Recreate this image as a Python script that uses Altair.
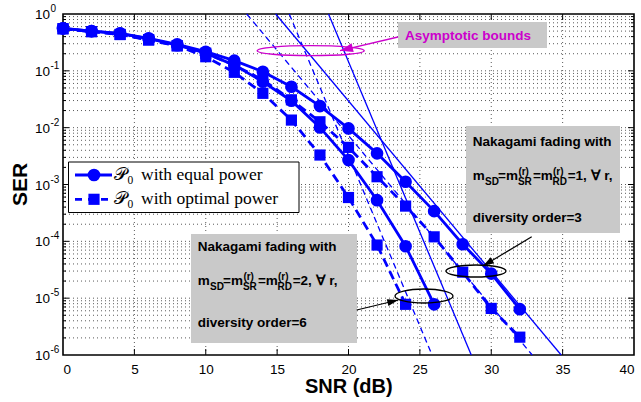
import math
import altair as alt
import pandas as pd

BLUE = "#0000ff"
MAGENTA = "#cc00cc"
BOX_GREY = "#c9c9c9"
GRID = "#5a5a5a"
SANS = "Liberation Sans"
SERIF = "Liberation Serif"

# plot area size and its offset inside the page
W, H = 571, 341
LEFT, TOP = 63, 14

# ---- simulated SER curves ----
snr_m1 = [0, 2, 4, 6, 8, 10, 12, 14, 16, 18, 20, 22, 24, 26, 28, 30, 32]
ser_m1_equal = [0.56, 0.50, 0.457, 0.373, 0.293, 0.217, 0.151, 0.0964, 0.0525,
                0.024, 0.0097, 0.00353, 0.00112, 3.4e-4, 8.9e-5, 2.7e-5, 6.4e-6]
ser_m1_optimal = [0.55, 0.49, 0.436, 0.355, 0.275, 0.204, 0.126, 0.0692, 0.0309,
                  0.0127, 0.0045, 0.00137, 4.17e-4, 1.2e-4, 2.87e-5, 6.6e-6, 2.06e-6]

snr_m2_equal = [0, 2, 4, 6, 8, 10, 12, 14, 16, 18, 20, 22, 24, 26]
ser_m2_equal = [0.56, 0.50, 0.452, 0.367, 0.282, 0.204, 0.126, 0.0643, 0.0298,
                0.0101, 0.00269, 5.3e-4, 8.2e-5, 7.8e-6]
snr_m2_optimal = [0, 2, 4, 6, 8, 10, 12, 14, 16, 18, 20, 22, 24]
ser_m2_optimal = [0.55, 0.49, 0.436, 0.347, 0.277, 0.177, 0.0942, 0.0402, 0.0136,
                  0.0033, 5.9e-4, 8.6e-5, 7.8e-6]

# ---- asymptotic bounds: SNR where each bound crosses SER = 1 and SER = 1e-6 ----
asym_ser = [1.0, 1e-6]
asym_m1_equal_snr = [14.9, 34.9]
asym_m1_optimal_snr = [12.87, 32.87]
asym_m2_equal_snr = [18.6, 28.6]
asym_m2_optimal_snr = [15.85, 25.85]

# ---- axis ticks ----
x_major = [0, 5, 10, 15, 20, 25, 30, 35, 40]
y_decades = [1.0, 1e-1, 1e-2, 1e-3, 1e-4, 1e-5, 1e-6]
y_exponents = ["0", "-1", "-2", "-3", "-4", "-5", "-6"]
y_minor = [m * 10.0 ** e for e in range(-6, 0) for m in range(2, 10)]

XS = alt.Scale(domain=[0, 40], nice=False, zero=False)
YS = alt.Scale(type="log", domain=[1e-6, 1], nice=False)
XAX = alt.Axis(values=x_major, format="d", grid=False, ticks=False, domain=False,
               labelFont=SANS, labelFontSize=13.5, labelColor="black", labelPadding=7)


def X(field):
    return alt.X(field, type="quantitative", scale=XS, axis=XAX, title=None)


def Y(field):
    return alt.Y(field, type="quantitative", scale=YS, axis=None)


one = pd.DataFrame({"k": [0]})


def px(x):
    return alt.value(x - LEFT)


def py(y):
    return alt.value(y - TOP)


def label(s, x, y, size, color="black", weight="bold", font=SANS, align="left", angle=0):
    return alt.Chart(one).mark_text(
        text=s, align=align, baseline="alphabetic", fontSize=size,
        fontWeight=weight, font=font, color=color, angle=angle,
    ).encode(x=px(x), y=py(y))


def rect(x1, y1, x2, y2, fill, stroke="", sw=0):
    kw = dict(fill=fill, opacity=1)
    if stroke:
        kw.update(stroke=stroke, strokeWidth=sw)
    return alt.Chart(one).mark_rect(**kw).encode(
        x=px(x1), x2=px(x2), y=py(y1), y2=py(y2))


def ellipse(cx, cy, w, h, color, sw):
    r = h / w
    k = 0.5523
    path = (f"M-1,0C-1,{-k*r:.4f} {-k:.4f},{-r:.4f} 0,{-r:.4f}"
            f"C{k:.4f},{-r:.4f} 1,{-k*r:.4f} 1,0"
            f"C1,{k*r:.4f} {k:.4f},{r:.4f} 0,{r:.4f}"
            f"C{-k:.4f},{r:.4f} -1,{k*r:.4f} -1,0Z")
    return alt.Chart(one).mark_point(
        shape=path, size=w * w, filled=False, color=color,
        strokeWidth=sw, opacity=1,
    ).encode(x=px(cx), y=py(cy))


def arrow(x1, y1, x2, y2, color, sw, head_len, head_w):
    ang = math.degrees(math.atan2(x2 - x1, -(y2 - y1))) % 360
    a = (head_w / 2) / head_len
    path = f"M0,0L{-a:.4f},1L{a:.4f},1Z"
    shaft = alt.Chart(one).mark_rule(color=color, strokeWidth=sw).encode(
        x=px(x1), y=py(y1), x2=px(x2), y2=py(y2))
    head = alt.Chart(one).mark_point(
        shape=path, size=(2 * head_len) ** 2, filled=True, color=color,
        angle=ang, opacity=1,
    ).encode(x=px(x2), y=py(y2))
    return [shaft, head]


layers = []

# dotted grid
layers.append(alt.Chart(pd.DataFrame({"v": y_decades[1:-1] + y_minor})).mark_rule(
    color=GRID, strokeDash=[1, 3], strokeWidth=1).encode(y=Y("v")))
layers.append(alt.Chart(pd.DataFrame({"v": x_major[1:-1]})).mark_rule(
    color=GRID, strokeDash=[1, 3], strokeWidth=1).encode(x=X("v")))

# inward ticks on all four sides
xt = alt.Chart(pd.DataFrame({"v": x_major[1:-1]}))
layers.append(xt.mark_rule(color="black").encode(x=X("v"), y=alt.value(H), y2=alt.value(H - 6)))
layers.append(xt.mark_rule(color="black").encode(x=X("v"), y=alt.value(0), y2=alt.value(6)))
for vals, ln in ((y_decades[1:-1], 6), (y_minor, 3)):
    yt = alt.Chart(pd.DataFrame({"v": vals}))
    layers.append(yt.mark_rule(color="black").encode(y=Y("v"), x=alt.value(0), x2=alt.value(ln)))
    layers.append(yt.mark_rule(color="black").encode(y=Y("v"), x=alt.value(W), x2=alt.value(W - ln)))

# annotation boxes and legend frame
layers.append(rect(398, 22, 547, 48, BOX_GREY))
layers.append(rect(466, 126, 620, 233, BOX_GREY))
layers.append(rect(191, 234, 357, 343, BOX_GREY))
layers.append(rect(68.5, 162, 299, 212.5, "white", "black", 1))

# asymptotic bounds
for snr, dash in ((asym_m1_equal_snr, None), (asym_m1_optimal_snr, [6, 4]),
                  (asym_m2_equal_snr, None), (asym_m2_optimal_snr, [6, 4])):
    kw = dict(color=BLUE, strokeWidth=1.3)
    if dash:
        kw["strokeDash"] = dash
    layers.append(alt.Chart(pd.DataFrame({"snr": snr, "ser": asym_ser}))
                  .mark_line(**kw).encode(x=X("snr"), y=Y("ser")))

# simulated curves
curves = [
    (snr_m2_optimal, ser_m2_optimal, True),
    (snr_m1, ser_m1_optimal, True),
    (snr_m2_equal, ser_m2_equal, False),
    (snr_m1, ser_m1_equal, False),
]
for snr, ser, dashed in curves:
    kw = dict(color=BLUE, strokeWidth=2.8)
    if dashed:
        kw["strokeDash"] = [9, 5]
    layers.append(alt.Chart(pd.DataFrame({"snr": snr, "ser": ser}))
                  .mark_line(**kw).encode(x=X("snr"), y=Y("ser")))
for snr, ser, dashed in curves:
    shape, size = ("square", 125) if dashed else ("circle", 160)
    layers.append(alt.Chart(pd.DataFrame({"snr": snr, "ser": ser}))
                  .mark_point(shape=shape, size=size, filled=True, color=BLUE, opacity=1)
                  .encode(x=X("snr"), y=Y("ser")))

# ellipses and arrows
layers.append(ellipse(310.7, 50.7, 107, 10, MAGENTA, 1.3))
layers += arrow(398, 37, 340, 50.7, MAGENTA, 1.3, 13, 9)
layers.append(ellipse(476, 271, 60, 12, "black", 1.3))
layers += arrow(531.7, 236.7, 483, 266, "black", 1.2, 11, 7)
layers.append(ellipse(424, 296, 58, 14, "black", 1.3))
layers += arrow(356.7, 310, 398.3, 300, "black", 1.2, 11, 7)

# annotation texts
layers.append(label("Asymptotic bounds", 405, 40, 13.5, color=MAGENTA))


def nakagami(x0, y0, order, diversity):
    out = [label("Nakagami fading with", x0, y0, 13.5)]
    b = y0 + 33.5
    out += [
        label("m", x0, b, 13.5),
        label("SD", x0 + 12.3, b + 5.5, 10),
        label("=m", x0 + 25.3, b, 13.5),
        label("SR", x0 + 45.2, b + 5.5, 10),
        label("(r)", x0 + 45.7, b - 5, 10),
        label("=m", x0 + 60.2, b, 13.5),
        label("RD", x0 + 79.8, b + 5.5, 10),
        label("(r)", x0 + 80.3, b - 5, 10),
        label(f"={order}, \u2200 r,", x0 + 95, b, 13.5),
    ]
    out.append(label(f"diversity order={diversity}", x0, y0 + 76, 13.5))
    return out


layers += nakagami(472.7, 146, 1, 3)
layers += nakagami(197.7, 251, 2, 6)

# legend entries
for yrow, dashed, name in ((175, False, "with equal power"), (199.3, True, "with optimal power")):
    kw = dict(color=BLUE, strokeWidth=2.8)
    if dashed:
        kw["strokeDash"] = [7, 6]
    layers.append(alt.Chart(one).mark_rule(**kw).encode(
        x=px(75), x2=px(112), y=py(yrow), y2=py(yrow)))
    shape, size = ("square", 125) if dashed else ("circle", 160)
    layers.append(alt.Chart(one).mark_point(shape=shape, size=size, filled=True,
                                            color=BLUE, opacity=1)
                  .encode(x=px(94), y=py(yrow)))
    layers.append(label("\U0001D4AB", 114, yrow + 5, 17.5, weight="normal", font=SERIF))
    layers.append(label("0", 127.5, yrow + 9, 11.5, weight="normal", font=SERIF))
    layers.append(label(name, 141, yrow + 5, 17.5, weight="normal", font=SERIF))

# y tick labels as 10^k
yl = alt.Chart(pd.DataFrame({"v": y_decades, "e": y_exponents}))
layers.append(yl.mark_text(text="10", align="right", baseline="alphabetic", dy=5,
                           fontSize=13.5, font=SANS, color="black")
              .encode(y=Y("v"), x=alt.value(-13)))
layers.append(yl.mark_text(align="left", baseline="alphabetic", dy=-2,
                           fontSize=10, font=SANS, color="black")
              .encode(y=Y("v"), x=alt.value(-12.5), text="e:N"))

# axis titles
layers.append(label("SNR (dB)", 348.8, 393, 20, align="center"))
layers.append(label("SER", 27, 184.5, 21, align="center", angle=270))

chart = alt.layer(*layers).properties(
    width=W, height=H,
    autosize=alt.AutoSizeParams(type="none"),
    padding={"left": LEFT, "top": TOP, "right": 641 - LEFT - W, "bottom": 402 - TOP - H},
    background="white",
).configure_view(stroke="black", strokeWidth=1.6)

chart.save("out.html", embed_options={"renderer": "svg", "actions": False})
